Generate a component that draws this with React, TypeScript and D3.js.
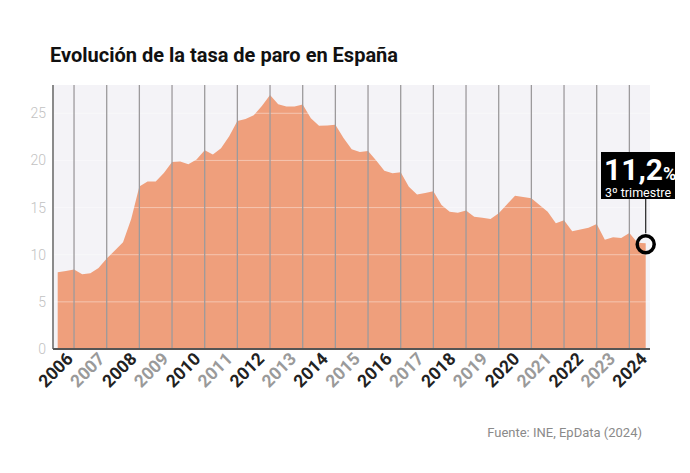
import React from "react";
import * as d3 from "d3";

// Quarterly unemployment rate (EPA), 2006 Q3 – 2024 Q3
const startYear = 2006;
const startQuarter = 3;
const rates = [
  8.15, 8.26,
  8.42, 7.93, 8.03, 8.6,
  9.6, 10.44, 11.33, 13.79,
  17.24, 17.77, 17.77, 18.66,
  19.84, 19.89, 19.59, 20.11,
  21.08, 20.64, 21.28, 22.56,
  24.19, 24.4, 24.79, 25.77,
  26.94, 25.97, 25.73, 25.73,
  25.93, 24.47, 23.67, 23.7,
  23.78, 22.37, 21.18, 20.9,
  21.0, 20.0, 18.91, 18.63,
  18.75, 17.22, 16.38, 16.55,
  16.74, 15.28, 14.55, 14.45,
  14.7, 14.02, 13.92, 13.78,
  14.41, 15.33, 16.26, 16.13,
  15.98, 15.26, 14.57, 13.33,
  13.65, 12.48, 12.67, 12.87,
  13.26, 11.6, 11.84, 11.76,
  12.29, 11.27, 11.21,
];
const yearLabels = [
  2006, 2007, 2008, 2009, 2010, 2011, 2012, 2013, 2014, 2015, 2016, 2017,
  2018, 2019, 2020, 2021, 2022, 2023, 2024,
];
const gridYears = [
  2007, 2008, 2009, 2010, 2011, 2012, 2013, 2014, 2015, 2016, 2017, 2018,
  2019, 2020, 2021, 2022, 2023, 2024,
];
const yTicks = [0, 5, 10, 15, 20, 25];
const title = "Evolución de la tasa de paro en España";
const source = "Fuente: INE, EpData (2024)";
const annotValue = "11,2";
const annotUnit = "%";
const annotLabel = "3º trimestre";

const W = 690;
const H = 473;
const FONT = "Roboto, 'Noto Sans', sans-serif";

export default function App() {
  const points = rates.map((v, i) => ({
    t: startYear + (startQuarter - 1) / 4 + i / 4,
    v,
  }));
  const t0 = points[0].t;
  const t1 = points[points.length - 1].t;

  const x = d3.scaleLinear().domain([t0, t1]).range([57.7, 645.7]);
  const y = d3.scaleLinear().domain([0, 28]).range([349, 85]);
  const plotLeft = 53;
  const plotRight = 650;

  const labelX = d3
    .scalePoint<number>()
    .domain(yearLabels)
    .range([x(2007), x(t1) + 2.5]);

  const area = d3
    .area<{ t: number; v: number }>()
    .x((d) => x(d.t))
    .y0(y(0))
    .y1((d) => y(d.v))
    .curve(d3.curveLinear);

  const last = points[points.length - 1];
  const lx = x(last.t);
  const ly = y(last.v);

  return (
    <svg
      width={W}
      height={H}
      style={{ position: "absolute", left: 0, top: 0, background: "#fff" }}
      fontFamily={FONT}
    >
      <text x={50} y={62} fontSize={20} fontWeight={700} fill="#111">
        {title}
      </text>

      <rect
        x={plotLeft}
        y={y(28)}
        width={plotRight - plotLeft}
        height={y(0) - y(28)}
        fill="#f4f3f7"
      />
      <path d={area(points) || ""} fill="#ef9f7c" />

      {yTicks
        .filter((t) => t > 0)
        .map((t) => (
          <line
            key={"h" + t}
            x1={plotLeft}
            x2={plotRight}
            y1={y(t)}
            y2={y(t)}
            stroke="#ffffff"
            strokeOpacity={0.4}
            strokeWidth={1}
          />
        ))}

      {gridYears.map((g) => (
        <line
          key={"v" + g}
          x1={x(g)}
          x2={x(g)}
          y1={y(28)}
          y2={y(0)}
          stroke="#9c9a9c"
          strokeWidth={1.3}
        />
      ))}

      <line
        x1={plotLeft}
        x2={plotLeft}
        y1={y(28)}
        y2={y(0)}
        stroke="#8a8a8a"
        strokeWidth={2}
      />
      <line
        x1={plotLeft}
        x2={plotRight}
        y1={y(0)}
        y2={y(0)}
        stroke="#555"
        strokeWidth={2}
      />

      {yTicks.map((t) => (
        <text
          key={"yl" + t}
          x={46}
          y={y(t)}
          textAnchor="end"
          dominantBaseline="central"
          fontSize={14}
          fontWeight={300}
          fill="#c2c2c2"
        >
          {t}
        </text>
      ))}

      {yearLabels.map((yr, i) => {
        const lxp = labelX(yr) as number;
        return (
          <text
            key={"xl" + yr}
            transform={`translate(${lxp},${360}) rotate(-45)`}
            textAnchor="end"
            fontSize={17.5}
            fontWeight={700}
            fill={i % 2 === 0 ? "#222" : "#9a9a9a"}
          >
            {yr}
          </text>
        );
      })}

      {/* annotation */}
      <line x1={lx} x2={lx} y1={199} y2={ly - 10} stroke="#222" strokeWidth={1.2} />
      <circle cx={lx} cy={ly + 1} r={8.5} fill="none" stroke="#000" strokeWidth={3.5} />
      <rect x={601} y={152} width={74} height={47} fill="#000" />
      <text x={604} y={180} fill="#fff" fontWeight={700}>
        <tspan fontSize={30}>{annotValue}</tspan>
        <tspan fontSize={18}>{annotUnit}</tspan>
      </text>
      <text x={638} y={196.5} fill="#fff" fontSize={12.5} textAnchor="middle">
        {annotLabel}
      </text>

      <text x={642} y={437} textAnchor="end" fontSize={13} fill="#8a8a8a">
        {source}
      </text>
    </svg>
  );
}
